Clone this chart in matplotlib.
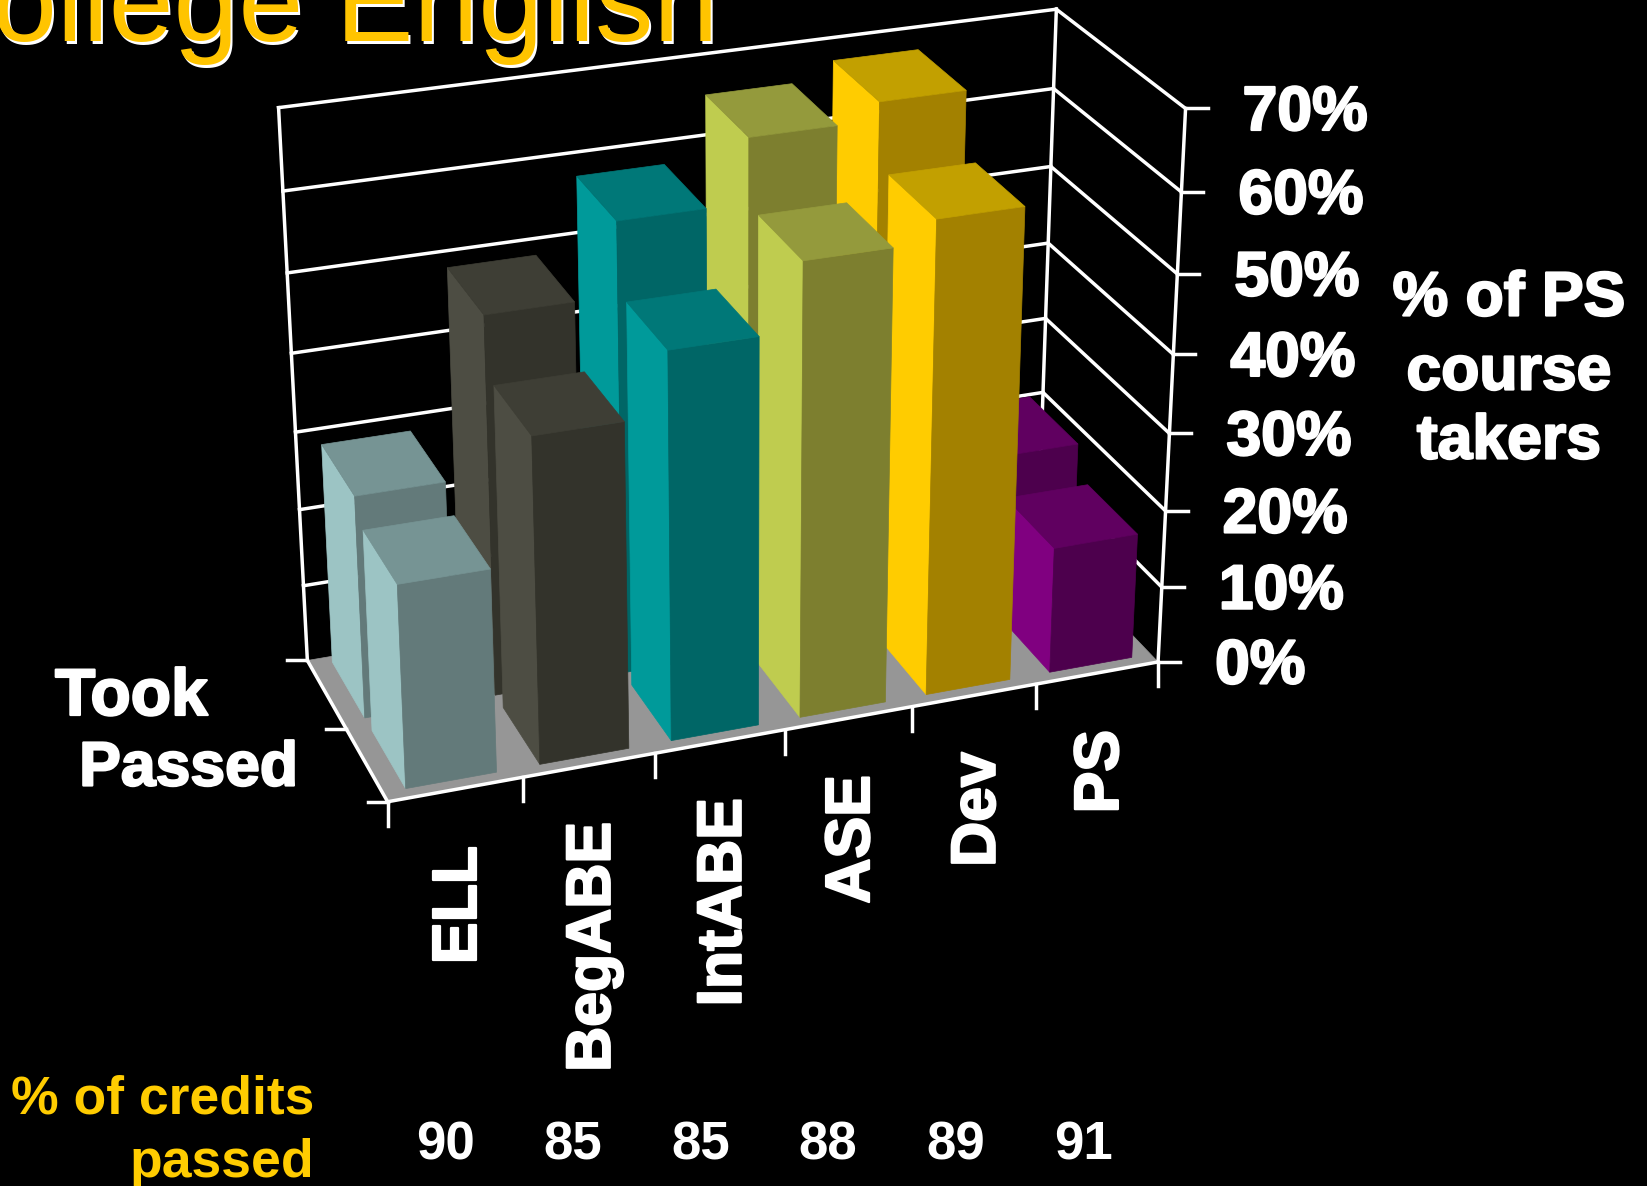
#!/usr/bin/env python3
"""College English: 3D-style bars of PS course takers, drawn with a fitted camera."""

import matplotlib
matplotlib.use("Agg")
import matplotlib.pyplot as plt
import matplotlib.patheffects as pe
from matplotlib.patches import Polygon
import numpy as np

categories = ["ELL", "BegABE", "IntABE", "ASE", "Dev", "PS"]
series_names = ["Passed", "Took"]
passed = [25.8, 41.2, 49, 57.3, 60, 16.4]
took = [28.6, 48.5, 57.6, 65.5, 67.7, 20.4]
credits_passed = [90, 85, 85, 88, 89, 91]
z_ticks = [0, 10, 20, 30, 40, 50, 60, 70]

side_colors = ["#9CC4C4", "#4D4D43", "#009A9A", "#BFCC4F", "#FFCC00", "#800080"]
front_colors = ["#637A7A", "#33332B", "#006666", "#7D7F2F", "#A38100", "#4D004D"]
top_colors = ["#769494", "#3E3E35", "#007878", "#949A3C", "#C2A000", "#600060"]

W, H = 1647, 1186
GOLD = "#FFCC00"
FONT = "Liberation Sans"
LW = 2.5

# camera anchors: (category, depth, percent) -> pixel position of the box corners
anchors = [
    (0, 0, 0, 387, 801), (6, 0, 0, 1159, 662), (0, 1, 0, 307, 661),
    (0, 1, 70, 278, 107), (6, 1, 70, 1057, 9), (6, 0, 70, 1185, 109),
    (0, 1, 30, 297, 433), (6, 0, 30, 1169, 433), (6, 1, 20, 1042, 392),
    (6, 1, 40, 1048, 243), (6, 0, 40, 1174, 355),
]
rows = []
for X, Y, Z, u, v in anchors:
    p = [X / 6, Y, Z / 70, 1]
    u, v = u / 1000, v / 1000
    rows.append(p + [0, 0, 0, 0] + [-u * c for c in p])
    rows.append([0, 0, 0, 0] + p + [-v * c for c in p])
camera = np.linalg.svd(np.array(rows))[2][-1].reshape(3, 4)


def project(x, y, z):
    q = camera @ np.array([x / 6, y, z / 70, 1])
    return q[0] / q[2] * 1000, q[1] / q[2] * 1000


fig = plt.figure(figsize=(W / 100, H / 100), dpi=100, facecolor="black")
ax = fig.add_axes([0, 0, 1, 1])
ax.set_xlim(0, W)
ax.set_ylim(H, 0)
ax.axis("off")


def face(points, color, z):
    ax.add_patch(Polygon([project(*p) for p in points], closed=True, facecolor=color,
                         edgecolor=color, linewidth=0.5, zorder=z))


def line(a, b, z=2):
    pa, pb = project(*a), project(*b)
    ax.plot([pa[0], pb[0]], [pa[1], pb[1]], color="white", linewidth=LW,
            solid_capstyle="projecting", zorder=z)


def label(x, y, s, size=45, color="white", stroke=1.6, **kw):
    t = ax.text(x, y, s, fontsize=size, color=color, family=FONT, weight="bold", zorder=20, **kw)
    if stroke:
        t.set_path_effects([pe.withStroke(linewidth=stroke, foreground=color)])


# floor and walls
face([(0, 0, 0), (6, 0, 0), (6, 1, 0), (0, 1, 0)], "#969696", 1)
for v in z_ticks:
    if v > 0:
        line((0, 1, v), (6, 1, v))
        line((6, 1, v), (6, 0, v))
    px, py = project(6, 0, v)
    ax.plot([px, px + 22], [py, py], color="white", linewidth=LW, zorder=2)
    label(px + 57, py + 5, f"{v}%", va="center", ha="left")
line((0, 1, 0), (0, 1, 70))
line((6, 1, 0), (6, 1, 70))
line((6, 0, 0), (6, 0, 70))

# bars, back row first and right to left so nearer faces cover farther ones
x_pad = (0.17, 0.845)
depths = [(0.06, 0.46), (0.55, 0.96)]
for row, values in reversed(list(enumerate([passed, took]))):
    y0, y1 = depths[row]
    for i in reversed(range(len(categories))):
        x0, x1 = i + x_pad[0], i + x_pad[1]
        h = values[i]
        z = 5 + (1 - row) * 10 + (6 - i) * 0.1
        face([(x0, y0, 0), (x0, y1, 0), (x0, y1, h), (x0, y0, h)], side_colors[i], z)
        face([(x0, y0, 0), (x1, y0, 0), (x1, y0, h), (x0, y0, h)], front_colors[i], z)
        face([(x0, y0, h), (x1, y0, h), (x1, y1, h), (x0, y1, h)], top_colors[i], z)

# floor edges and ticks sit over the bars' feet
line((0, 0, 0), (6, 0, 0), z=16)
line((0, 0, 0), (0, 1, 0), z=16)
for i in range(len(categories) + 1):
    px, py = project(i, 0, 0)
    ax.plot([px, px], [py, py + 24], color="white", linewidth=LW, zorder=2)
for d in [0, 0.5, 1]:
    px, py = project(0, d, 0)
    ax.plot([px - 20, px], [py, py], color="white", linewidth=LW, zorder=2)

# category labels and credit percentages
for i, name in enumerate(categories):
    px, py = project(i + 0.5, 0, 0)
    label(px + 4, py + 57, name, rotation=90, ha="center", va="top")
    label(445 + 127.7 * i, 1145, str(credits_passed[i]), size=38, stroke=0, ha="center", va="center")

label(55, 698, "Took", size=47.5, va="center", ha="left")
label(298, 769, "Passed", va="center", ha="right")
for y, s in zip([299, 373, 442], ["% of PS", "course", "takers"]):
    label(1509, y, s, va="center", ha="center")
label(314, 1099, "% of credits", size=38.5, color=GOLD, stroke=0, va="center", ha="right")
label(314, 1163, "passed", size=38.5, color=GOLD, stroke=0, va="center", ha="right")

# title, cut off by the top of the slide
ax.text(-90, 44, "College English", fontsize=84, color="white", family=FONT, va="baseline", zorder=20)
ax.text(-92, 41, "College English", fontsize=84, color="#FFC400", family=FONT, va="baseline", zorder=21)

fig.savefig("out.png", dpi=100, facecolor="black")
plt.close(fig)
